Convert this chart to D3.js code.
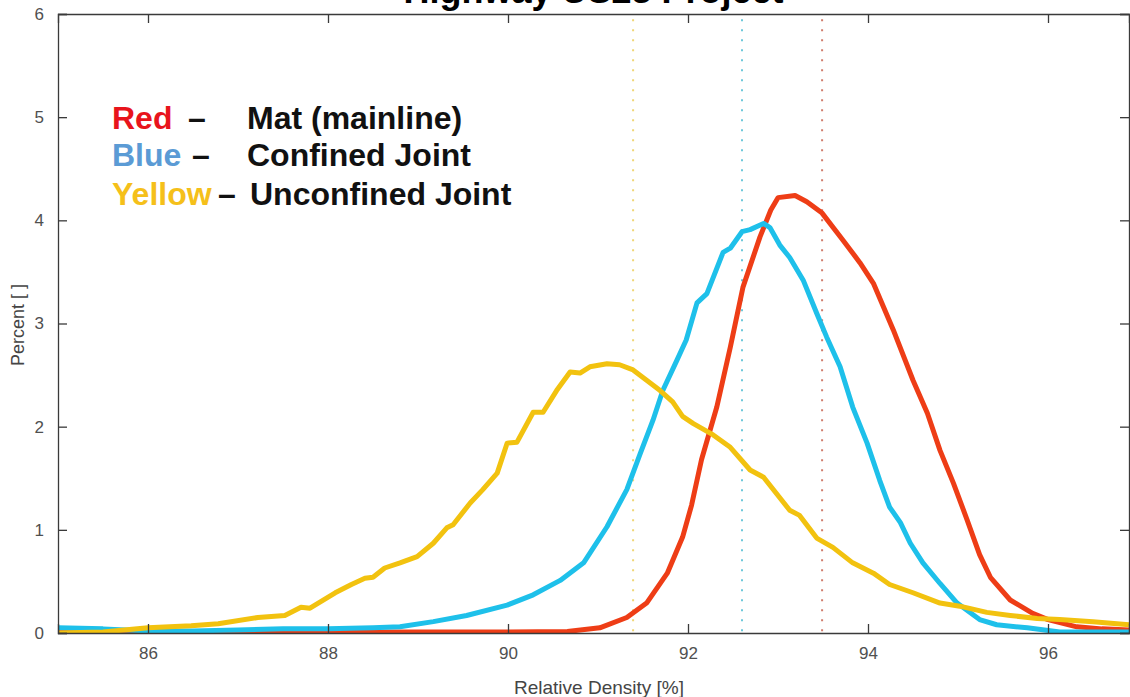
<!DOCTYPE html>
<html>
<head>
<meta charset="utf-8">
<script src="https://cdn.jsdelivr.net/npm/d3@7"></script>
<style>
  body { margin: 0; background: #fff; }
  text { font-family: "Liberation Sans", Arial, sans-serif; }
</style>
</head>
<body>
<div id="chart"></div>
<script>
// Density curves: [relative density %, percent]
var matPts = [
  [85, 0.005], [86, 0.005], [87, 0.005], [88, 0.008], [89, 0.01], [90, 0.01],
  [90.66, 0.015], [91.02, 0.05], [91.32, 0.15], [91.54, 0.29], [91.77, 0.58],
  [91.94, 0.93], [92.04, 1.24], [92.15, 1.68], [92.32, 2.19], [92.47, 2.77],
  [92.61, 3.35], [92.8, 3.84], [92.92, 4.1], [93.0, 4.22], [93.19, 4.24],
  [93.32, 4.18], [93.49, 4.07], [93.72, 3.81], [93.91, 3.59], [94.06, 3.39],
  [94.28, 2.94], [94.5, 2.45], [94.66, 2.13], [94.8, 1.77], [94.95, 1.45],
  [95.1, 1.1], [95.24, 0.76], [95.36, 0.54], [95.58, 0.32], [95.83, 0.19],
  [96.0, 0.13], [96.32, 0.06], [96.6, 0.04], [96.9, 0.03]
];
var confinedPts = [
  [85, 0.05], [85.5, 0.04], [86, 0.02], [86.5, 0.02], [87, 0.03], [87.5, 0.04],
  [88, 0.04], [88.5, 0.05], [88.8, 0.06], [89.17, 0.11], [89.54, 0.17],
  [89.99, 0.27], [90.28, 0.37], [90.58, 0.51], [90.84, 0.68], [91.1, 1.03],
  [91.32, 1.39], [91.47, 1.74], [91.61, 2.06], [91.72, 2.35], [91.88, 2.65],
  [91.98, 2.84], [92.1, 3.2], [92.21, 3.29], [92.39, 3.69], [92.47, 3.73],
  [92.6, 3.89], [92.69, 3.91], [92.84, 3.97], [92.91, 3.93], [93.02, 3.76],
  [93.13, 3.64], [93.28, 3.42], [93.43, 3.1], [93.54, 2.87], [93.69, 2.58],
  [93.83, 2.19], [93.99, 1.84], [94.13, 1.48], [94.24, 1.22], [94.36, 1.07],
  [94.47, 0.87], [94.61, 0.68], [94.8, 0.48], [94.99, 0.29], [95.24, 0.13],
  [95.43, 0.08], [95.77, 0.05], [96.13, 0.01], [96.9, 0.01]
];
var unconfinedPts = [
  [85, 0.0], [85.5, 0.01], [86, 0.05], [86.48, 0.07], [86.78, 0.09], [87.22, 0.15],
  [87.52, 0.17], [87.7, 0.25], [87.8, 0.24], [88.08, 0.39], [88.26, 0.47],
  [88.41, 0.53], [88.5, 0.54], [88.63, 0.63], [88.8, 0.68], [88.99, 0.74],
  [89.17, 0.87], [89.32, 1.02], [89.39, 1.05], [89.58, 1.26], [89.72, 1.39],
  [89.88, 1.55], [89.99, 1.84], [90.1, 1.85], [90.28, 2.14], [90.39, 2.14],
  [90.54, 2.35], [90.69, 2.53], [90.8, 2.52], [90.91, 2.58], [91.1, 2.61],
  [91.24, 2.6], [91.39, 2.55], [91.54, 2.45], [91.69, 2.35], [91.83, 2.24],
  [91.94, 2.1], [92.06, 2.03], [92.28, 1.92], [92.47, 1.8], [92.69, 1.58],
  [92.84, 1.51], [93.13, 1.19], [93.24, 1.14], [93.43, 0.92], [93.61, 0.83],
  [93.83, 0.68], [94.06, 0.58], [94.24, 0.47], [94.5, 0.39], [94.8, 0.29],
  [95.02, 0.26], [95.32, 0.2], [95.58, 0.17], [95.88, 0.14], [96.13, 0.13],
  [96.5, 0.11], [96.9, 0.08]
];

// mean markers (dotted verticals): unconfined, confined, mat
var meanX = [91.39, 92.6, 93.49];

var xTicks = [86, 88, 90, 92, 94, 96];
var yTicks = [0, 1, 2, 3, 4, 5, 6];

var legendNames = ["Red", "Blue", "Yellow"];
var legendLabels = ["Mat (mainline)", "Confined Joint", "Unconfined Joint"];

var w = 1130, h = 697;
var padL = 58, padR = 1129, padT = 14, padB = 633;

var lineColor = ["#ee3d16", "#1ec0ea", "#f2c20f"];
var dotColor = ["#f0d675", "#6cc8da", "#d07c6c"];
var nameColor = ["#e8141c", "#5b9bd5", "#f5c01a"];

var xScale = d3.scaleLinear().domain([85, 96.9]).range([padL, padR]);
var yScale = d3.scaleLinear().domain([0, 6]).range([padB, padT]);

var svg = d3.select("#chart").append("svg")
    .attr("width", w)
    .attr("height", h);

svg.append("defs").append("clipPath").attr("id", "plotclip")
  .append("rect")
    .attr("x", padL).attr("y", padT)
    .attr("width", padR - padL).attr("height", padB - padT);

// title (cut off at the top of the picture)
svg.append("text")
    .attr("x", (padL + padR) / 2)
    .attr("y", 3)
    .attr("text-anchor", "middle")
    .style("font-size", "36px")
    .style("font-weight", "bold")
    .text("Highway US23 Project");

// dotted mean lines
svg.append("g").selectAll("line")
  .data(meanX)
  .join("line")
    .attr("x1", function(d) { return xScale(d); })
    .attr("x2", function(d) { return xScale(d); })
    .attr("y1", yScale(5.95))
    .attr("y2", yScale(0))
    .attr("stroke", function(d, i) { return dotColor[i]; })
    .attr("stroke-width", 2)
    .attr("stroke-dasharray", "2,8");

// curves
var line = d3.line()
    .x(function(d) { return xScale(d[0]); })
    .y(function(d) { return yScale(d[1]); });

var series = [matPts, confinedPts, unconfinedPts];
svg.append("g").attr("clip-path", "url(#plotclip)")
  .selectAll("path")
  .data(series)
  .join("path")
    .attr("d", line)
    .attr("fill", "none")
    .attr("stroke", function(d, i) { return lineColor[i]; })
    .attr("stroke-width", 5)
    .attr("stroke-linejoin", "round");

// axes (box with inward ticks)
var axisColor = "#3a3a3a";
var xAxis = d3.axisBottom(xScale).tickValues(xTicks).tickSize(-9).tickPadding(14);
var yAxis = d3.axisLeft(yScale).tickValues(yTicks).tickSize(-9).tickPadding(14)
    .tickFormat(d3.format("d"));

var gx = svg.append("g")
    .attr("transform", "translate(0," + padB + ")")
    .call(xAxis);
var gy = svg.append("g")
    .attr("transform", "translate(" + padL + ",0)")
    .call(yAxis);
var gxt = svg.append("g")
    .attr("transform", "translate(0," + padT + ")")
    .call(d3.axisTop(xScale).tickValues(xTicks).tickSize(-9).tickFormat(""));
var gyr = svg.append("g")
    .attr("transform", "translate(" + padR + ",0)")
    .call(d3.axisRight(yScale).tickValues(yTicks).tickSize(-9).tickFormat(""));

[gx, gy, gxt, gyr].forEach(function(g) {
  g.select(".domain").attr("stroke", axisColor).attr("stroke-width", 1.3);
  g.selectAll(".tick line").attr("stroke", axisColor).attr("stroke-width", 1.3);
  g.selectAll(".tick text")
    .attr("fill", "#505050")
    .style("font-size", "17px")
    .style("font-family", "'Liberation Sans', Arial, sans-serif");
});

// axis labels
svg.append("text")
    .attr("x", 599)
    .attr("y", 694)
    .attr("text-anchor", "middle")
    .attr("fill", "#454545")
    .style("font-size", "19px")
    .text("Relative Density [%]");

svg.append("text")
    .attr("transform", "translate(24," + 325 + ") rotate(-90)")
    .attr("text-anchor", "middle")
    .attr("fill", "#454545")
    .style("font-size", "18px")
    .text("Percent [ ]");

// legend text block
var rowY = [129, 166, 205];
var dashX = [188, 192, 218];
var labelX = [247, 247, 250];
var leg = svg.append("g").style("font-size", "32px").style("font-weight", "bold");
legendNames.forEach(function(name, i) {
  leg.append("text")
      .attr("x", 112).attr("y", rowY[i])
      .attr("fill", nameColor[i])
      .text(name);
  leg.append("text")
      .attr("x", dashX[i]).attr("y", rowY[i])
      .attr("fill", "#111")
      .text("\u2013");
  leg.append("text")
      .attr("x", labelX[i]).attr("y", rowY[i])
      .attr("fill", "#111")
      .text(legendLabels[i]);
});
</script>
</body>
</html>
